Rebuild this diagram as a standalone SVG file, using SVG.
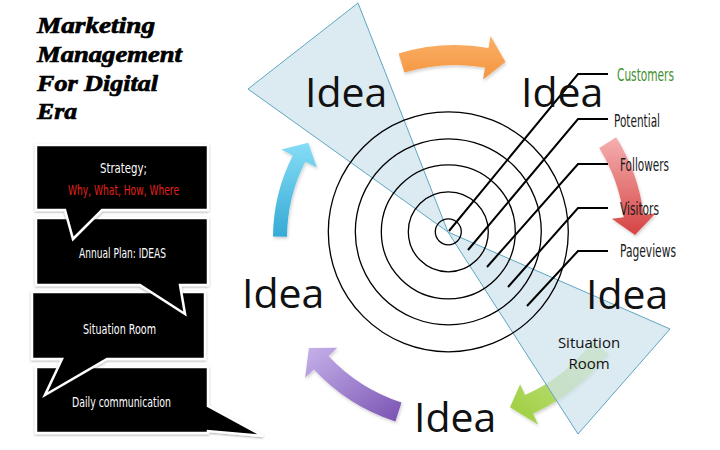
<svg xmlns="http://www.w3.org/2000/svg" width="720" height="450" viewBox="0 0 720 450">
<defs>
  <linearGradient id="gOrange" x1="0" y1="0" x2="0" y2="1"><stop offset="0" stop-color="#fbb068"/><stop offset="1" stop-color="#f4953f"/></linearGradient>
  <linearGradient id="gRed" x1="0" y1="0" x2="0" y2="1"><stop offset="0" stop-color="#f5b0b0"/><stop offset="1" stop-color="#d64444"/></linearGradient>
  <linearGradient id="gGreen" x1="1" y1="0" x2="0" y2="1"><stop offset="0" stop-color="#cfe9a0"/><stop offset="1" stop-color="#9ccd3a"/></linearGradient>
  <linearGradient id="gPurple" x1="0" y1="0" x2="1" y2="1"><stop offset="0" stop-color="#c6b2ea"/><stop offset="1" stop-color="#7a52b2"/></linearGradient>
  <linearGradient id="gCyan" x1="0" y1="0" x2="0" y2="1"><stop offset="0" stop-color="#86ddf6"/><stop offset="1" stop-color="#35aad5"/></linearGradient>
  <filter id="shadow" x="-10%" y="-10%" width="130%" height="130%">
    <feDropShadow dx="0" dy="1" stdDeviation="1.2" flood-color="#000" flood-opacity="0.35"/>
  </filter>
  <filter id="ashadow" x="-10%" y="-10%" width="130%" height="130%">
    <feDropShadow dx="1" dy="2" stdDeviation="1.5" flood-color="#000" flood-opacity="0.18"/>
  </filter>
</defs>
<style>
  .tri { fill: #cfe2eb; fill-opacity: 0.72; stroke: #5fa6c2; stroke-width: 1; }
  .ring { fill: none; stroke: #000; stroke-width: 1.3; }
  .lead { fill: none; stroke: #000; stroke-width: 2; stroke-linejoin: miter; }
  .idea { font-family: "Open Sans", "Liberation Sans", sans-serif; font-size: 41px; fill: #111; }
  .lbl { font-family: "Liberation Sans Narrow", "DejaVu Sans Condensed", "Liberation Sans", sans-serif; font-stretch: condensed; font-size: 18px; fill: #1a1a1a; }
  .title { font-family: "Liberation Serif", "DejaVu Serif", serif; font-weight: bold; font-style: italic; font-size: 24px; fill: #000; stroke: #000; stroke-width: 0.7; }
  .box { fill: #000; stroke: #fff; stroke-width: 2.5; stroke-linejoin: miter; filter: url(#shadow); }
  .bt { font-family: "Liberation Sans Narrow", "DejaVu Sans Condensed", "Liberation Sans", sans-serif; font-stretch: condensed; font-size: 13.5px; fill: #fff; text-anchor: middle; }
  .sit { font-family: "Open Sans", "Liberation Sans", sans-serif; font-size: 15px; fill: #111; text-anchor: middle; }
</style>

<g id="arrows" filter="url(#ashadow)">
  <path id="arrow-orange" fill="url(#gOrange)" d="M398.6,53.4 A193,193 0 0 1 488.5,47.9 L490.6,36.1 L505.4,62.1 L483.0,79.5 L485.0,67.6 A173,173 0 0 0 404.4,72.6 Z"/>
  <path id="arrow-red" fill="url(#gRed)" d="M616.1,137.3 A190,190 0 0 1 643.6,214.8 L655.5,213.4 L635.0,234.9 L611.8,218.7 L623.7,217.3 A170,170 0 0 0 599.2,147.9 Z"/>
  <path id="arrow-green" fill="url(#gGreen)" d="M608.3,353.6 A192,192 0 0 1 533.1,413.4 L538.0,424.4 L510.0,407.3 L520.1,384.2 L525.0,395.1 A172,172 0 0 0 592.4,341.5 Z"/>
  <path id="arrow-purple" fill="url(#gPurple)" d="M395.4,421.6 A193,193 0 0 1 313.9,369.6 L305.1,377.8 L308.9,348.1 L337.3,347.8 L328.5,356.0 A173,173 0 0 0 401.5,402.5 Z"/>
  <path id="arrow-cyan" fill="url(#gCyan)" d="M273.0,236.5 A182,182 0 0 1 292.8,155.4 L281.3,149.5 L308.2,142.7 L316.9,167.6 L305.3,161.7 A168,168 0 0 0 287.0,236.8 Z"/>
</g>

<g id="triangles">
  <polygon id="tri-top" class="tri" points="448,232 358,3 248,89"/>
  <polygon id="tri-bottom" class="tri" points="448,232 670,329 578,434"/>
</g>

<g id="rings">
  <circle class="ring" cx="448.3" cy="231.8" r="13"/>
  <circle class="ring" cx="448.3" cy="231.8" r="40"/>
  <circle class="ring" cx="448.3" cy="231.8" r="67"/>
  <circle class="ring" cx="448.3" cy="231.8" r="93"/>
  <circle class="ring" cx="448.3" cy="231.8" r="120"/>
</g>

<g id="connectors">
  <polyline class="lead" points="449,231 578,74 608,74"/>
  <polyline class="lead" points="468,250 578,119 608,119"/>
  <polyline class="lead" points="487,267 578,164 608,164"/>
  <polyline class="lead" points="508,287 578,208 608,208"/>
  <polyline class="lead" points="527,306 578,251 608,251"/>
</g>

<g id="idea-1"><text class="idea" x="305" y="107">Idea</text></g>
<g id="idea-2"><text class="idea" x="521" y="107">Idea</text></g>
<g id="idea-3"><text class="idea" x="242" y="308">Idea</text></g>
<g id="idea-4"><text class="idea" x="586" y="309">Idea</text></g>
<g id="idea-5"><text class="idea" x="414" y="432">Idea</text></g>

<g id="label-customers"><text class="lbl" x="617" y="81" style="fill:#3f8f2e" textLength="57" lengthAdjust="spacingAndGlyphs">Customers</text></g>
<g id="label-potential"><text class="lbl" x="614" y="126.5" textLength="46" lengthAdjust="spacingAndGlyphs">Potential</text></g>
<g id="label-followers"><text class="lbl" x="620" y="170.5" textLength="49" lengthAdjust="spacingAndGlyphs">Followers</text></g>
<g id="label-visitors"><text class="lbl" x="620" y="214.5" textLength="39" lengthAdjust="spacingAndGlyphs">Visitors</text></g>
<g id="label-pageviews"><text class="lbl" x="620" y="257" textLength="56" lengthAdjust="spacingAndGlyphs">Pageviews</text></g>

<g id="situation-room">
  <text class="sit" x="589" y="348">Situation</text>
  <text class="sit" x="589" y="369">Room</text>
</g>

<g id="title">
  <text class="title" x="37" y="33" textLength="118" lengthAdjust="spacingAndGlyphs">Marketing</text>
  <text class="title" x="37" y="62" textLength="145" lengthAdjust="spacingAndGlyphs">Management</text>
  <text class="title" x="37" y="91" textLength="121" lengthAdjust="spacingAndGlyphs">For Digital</text>
  <text class="title" x="37" y="119" textLength="40" lengthAdjust="spacingAndGlyphs">Era</text>
</g>

<g id="box-daily">
  <path class="box" d="M36,367 H208 V406 L263,436 L208,431 V433 H36 Z"/>
  <text class="bt" x="121.5" y="407" textLength="99" lengthAdjust="spacingAndGlyphs">Daily communication</text>
</g>
<g id="box-situation">
  <path class="box" d="M32,292 H205 V359 H107 L45,395 L62,359 H32 Z"/>
  <text class="bt" x="119.5" y="334" textLength="73" lengthAdjust="spacingAndGlyphs">Situation Room</text>
</g>
<g id="box-annual">
  <path class="box" d="M36,218 H208 V285 H180 L185,314 L140,285 H36 Z"/>
  <text class="bt" x="122.5" y="258" textLength="87" lengthAdjust="spacingAndGlyphs">Annual Plan: IDEAS</text>
</g>
<g id="box-strategy">
  <path class="box" d="M36,145 H208 V210 H102 L73,239 L65,210 H36 Z"/>
  <text class="bt" x="123.5" y="173" textLength="47" lengthAdjust="spacingAndGlyphs">Strategy;</text>
  <text class="bt" x="123.5" y="195" style="fill:#e3201b" textLength="111" lengthAdjust="spacingAndGlyphs">Why, What, How, Where</text>
</g>
</svg>
